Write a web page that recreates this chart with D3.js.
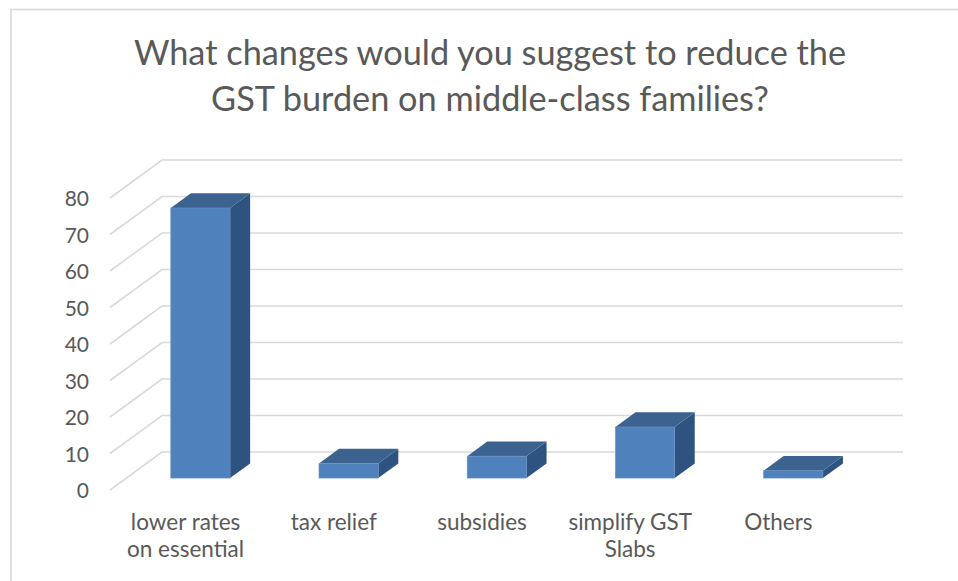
<!DOCTYPE html>
<html>
<head>
<meta charset="utf-8">
<script src="https://cdn.jsdelivr.net/npm/d3@7"></script>
<style>
  html, body { margin: 0; padding: 0; background: #ffffff; }
  svg { display: block; }
  text { font-family: Lato, "Open Sans", "Liberation Sans", sans-serif; fill: #595959; }
</style>
</head>
<body>
<svg id="chart" width="958" height="581"></svg>
<script>
// Survey responses (count of respondents per suggestion)
const categories = ["lower rates on essential", "tax relief", "subsidies", "simplify GST Slabs", "Others"];
const values = [74, 4, 6, 14, 2];
const yTicks = [0, 10, 20, 30, 40, 50, 60, 70, 80];
const titleLines = ["What changes would you suggest to reduce the", "GST burden on middle-class families?"];

const svg = d3.select("#chart");

// Chart area frame
svg.append("rect")
  .attr("x", 11).attr("y", 9.5)
  .attr("width", 1000).attr("height", 1000)
  .attr("fill", "#ffffff")
  .attr("stroke", "#d9d9d9").attr("stroke-width", 1.6);

// Oblique 3D projection: front plane scales, plus a depth vector to the back wall
const DX = 52, DY = -38;
const y = d3.scaleLinear().domain([0, 80]).range([490, 198]);
const x = d3.scaleBand().domain(categories).range([110, 851]).paddingInner(0).paddingOuter(0);
const barFrac = 0.4;                 // bar width as fraction of the band
const depthFront = 0.314, depthBack = 0.70; // bar depth span along the depth axis

// Title
svg.append("g").selectAll("text")
  .data(titleLines)
  .join("text")
  .attr("x", 490)
  .attr("y", (d, i) => 65 + i * 45.7)
  .attr("text-anchor", "middle")
  .attr("font-size", 34.3)
  .text(d => d);

// Gridlines: diagonal on the side wall and horizontal on the back wall
const grid = svg.append("g")
  .attr("fill", "none")
  .attr("stroke", "#d9d9d9")
  .attr("stroke-width", 1.6);
grid.selectAll("path")
  .data(yTicks)
  .join("path")
  .attr("d", v => {
    const yf = y(v);
    return `M${x.range()[0]},${yf}L${x.range()[0] + DX},${yf + DY}L${x.range()[1] + DX},${yf + DY}`;
  });

// Value axis labels
const yAxis = d3.axisLeft(y).tickValues(yTicks).tickSize(0).tickPadding(0);
const yAxisG = svg.append("g")
  .attr("transform", "translate(89,0)")
  .call(yAxis);
yAxisG.select(".domain").remove();
yAxisG.selectAll("text")
  .attr("font-size", 21)
  .attr("font-family", "Lato, 'Open Sans', sans-serif")
  .attr("fill", "#595959")
  .attr("dy", "0.36em");

// Bars: front, top and side faces
const bars = svg.append("g").selectAll("g")
  .data(categories.map((c, i) => ({ c, v: values[i] })))
  .join("g");

function barGeom(d) {
  const bw = x.bandwidth() * barFrac;
  const x0 = x(d.c) + (x.bandwidth() - bw) / 2 + DX * depthFront;
  const yb = y(0) + DY * depthFront;
  const yt = y(d.v) + DY * depthFront;
  const ddx = DX * (depthBack - depthFront);
  const ddy = DY * (depthBack - depthFront);
  return { x0, x1: x0 + bw, yb, yt, ddx, ddy };
}

bars.append("path") // side face
  .attr("fill", "#2f5380")
  .attr("d", d => {
    const g = barGeom(d);
    return `M${g.x1},${g.yb}L${g.x1 + g.ddx},${g.yb + g.ddy}L${g.x1 + g.ddx},${g.yt + g.ddy}L${g.x1},${g.yt}Z`;
  });
bars.append("path") // top face
  .attr("fill", "#3c6390")
  .attr("d", d => {
    const g = barGeom(d);
    return `M${g.x0},${g.yt}L${g.x0 + g.ddx},${g.yt + g.ddy}L${g.x1 + g.ddx},${g.yt + g.ddy}L${g.x1},${g.yt}Z`;
  });
bars.append("rect") // front face
  .attr("fill", "#4f81bd")
  .attr("stroke", "#6b93c6")
  .attr("stroke-width", 0.6)
  .attr("x", d => barGeom(d).x0)
  .attr("y", d => barGeom(d).yt)
  .attr("width", d => barGeom(d).x1 - barGeom(d).x0)
  .attr("height", d => barGeom(d).yb - barGeom(d).yt);

// Category labels, wrapped to fit the band
const catG = svg.append("g");
const labelSize = 22.5;
const maxLabelWidth = 130;
categories.forEach(c => {
  const cx = x(c) + x.bandwidth() / 2 + 1.5;
  const t = catG.append("text")
    .attr("text-anchor", "middle")
    .attr("font-size", labelSize)
    .attr("x", cx)
    .attr("y", 529.5);
  const words = c.split(" ");
  const lines = [];
  let line = [];
  const probe = catG.append("text").attr("font-size", labelSize);
  words.forEach(w => {
    const trial = line.concat([w]).join(" ");
    probe.text(trial);
    if (line.length && probe.node().getComputedTextLength() > maxLabelWidth) {
      lines.push(line.join(" "));
      line = [w];
    } else {
      line.push(w);
    }
  });
  lines.push(line.join(" "));
  probe.remove();
  t.selectAll("tspan")
    .data(lines)
    .join("tspan")
    .attr("x", cx)
    .attr("dy", (d, i) => i === 0 ? 0 : 27.4)
    .text(d => d);
});
</script>
</body>
</html>
